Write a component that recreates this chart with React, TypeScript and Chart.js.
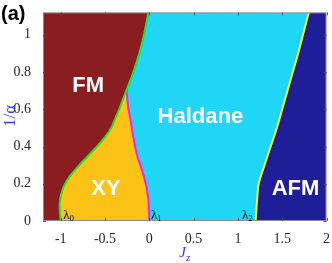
import React, { useEffect, useRef } from "react";
import { Chart, registerables } from "chart.js";

Chart.register(...registerables);

// ---- axes ----
const X_MIN = -1.2;
const X_MAX = 2;
const Y_MIN = 0;
const Y_MAX = 1.12;
const xTicks = [-1, -0.5, 0, 0.5, 1, 1.5, 2];
const yTicks = [0, 0.2, 0.4, 0.6, 0.8, 1];

// ---- phase boundaries (Jz as a function of 1/alpha), ordered top -> bottom ----
// FM boundary (green)
const greenY = [1.12, 1.0, 0.9, 0.8, 0.704, 0.65, 0.6, 0.55, 0.5, 0.45, 0.4, 0.35, 0.3, 0.25, 0.2, 0.16, 0.12, 0.08, 0.04, 0];
const greenX = [-0.01, -0.06, -0.113, -0.18, -0.256, -0.3, -0.34, -0.385, -0.43, -0.5, -0.59, -0.69, -0.79, -0.88, -0.95, -0.985, -1.005, -1.012, -1.008, -1.0];
// XY / Haldane boundary (magenta)
const magentaY = [0.704, 0.637, 0.6, 0.53, 0.45, 0.4, 0.34, 0.27, 0.2, 0.15, 0.11, 0.05, 0];
const magentaX = [-0.256, -0.245, -0.235, -0.207, -0.18, -0.16, -0.13, -0.08, -0.04, -0.02, -0.01, -0.003, 0];
// Haldane / AFM boundary (yellow)
const yellowY = [1.12, 1.0, 0.9, 0.8, 0.7, 0.6, 0.5, 0.4, 0.3, 0.2, 0.1, 0];
const yellowX = [1.8, 1.735, 1.68, 1.62, 1.56, 1.5, 1.44, 1.37, 1.3, 1.235, 1.215, 1.2];

// ---- phase names and critical points ----
const phaseNames = ["FM", "XY", "Haldane", "AFM"];
const phaseAt = [
  [-0.69, 0.693],
  [-0.49, 0.137],
  [0.576, 0.528],
  [1.65, 0.137],
];
const critNames = ["0", "1", "2"];
const critAt = [
  [-0.972, 0.013],
  [0.019, 0.013],
  [1.047, 0.013],
];

const COL_FM = "#8a1d1f";
const COL_XY = "#fdc216";
const COL_HAL = "#20d6f6";
const COL_AFM = "#1e1e98";
const AXIS_BLUE = "#3a3af2";
const SERIF = "'Liberation Serif', 'Times New Roman', serif";
const SANS = "'Liberation Sans', Arial, sans-serif";

const pts = (xs: number[], ys: number[]) => xs.map((x, i) => ({ x, y: ys[i] }));

const overlay = {
  id: "overlay",
  afterDatasetsDraw(chart: any) {
    const { ctx, chartArea: a, scales } = chart;
    const sx = scales.x;
    const sy = scales.y;
    ctx.save();
    // frame
    ctx.strokeStyle = "#8c8c8c";
    ctx.lineWidth = 1;
    ctx.strokeRect(a.left + 0.5, a.top + 0.5, a.right - a.left - 1, a.bottom - a.top - 1);
    // inward ticks
    ctx.strokeStyle = "rgba(70,70,70,0.85)";
    ctx.beginPath();
    for (const v of xTicks) {
      const px = Math.round(sx.getPixelForValue(v)) + 0.5;
      ctx.moveTo(px, a.bottom);
      ctx.lineTo(px, a.bottom - 3);
      ctx.moveTo(px, a.top);
      ctx.lineTo(px, a.top + 3);
    }
    for (const v of yTicks) {
      const py = Math.round(sy.getPixelForValue(v)) + 0.5;
      ctx.moveTo(a.left, py);
      ctx.lineTo(a.left + 3, py);
      ctx.moveTo(a.right, py);
      ctx.lineTo(a.right - 3, py);
    }
    ctx.stroke();

    // phase labels
    ctx.fillStyle = "#ffffff";
    ctx.font = `bold 22px ${SANS}`;
    ctx.textAlign = "center";
    ctx.textBaseline = "alphabetic";
    phaseNames.forEach((n, i) => {
      ctx.fillText(n, sx.getPixelForValue(phaseAt[i][0]), sy.getPixelForValue(phaseAt[i][1]));
    });

    // lambda labels
    ctx.fillStyle = "#000000";
    ctx.textAlign = "left";
    critNames.forEach((n, i) => {
      const px = sx.getPixelForValue(critAt[i][0]);
      const py = sy.getPixelForValue(critAt[i][1]);
      ctx.font = `13px ${SERIF}`;
      ctx.fillText("λ", px, py);
      const w = ctx.measureText("λ").width;
      ctx.font = `9px ${SERIF}`;
      ctx.fillText(n, px + w, py + 2.5);
    });

    // x title J_z
    const cx = (a.left + a.right) / 2;
    ctx.fillStyle = AXIS_BLUE;
    ctx.font = `italic 15px ${SERIF}`;
    const wJ = ctx.measureText("J").width;
    ctx.font = `italic 11px ${SERIF}`;
    const wz = ctx.measureText("z").width;
    const x0 = cx - (wJ + wz) / 2;
    ctx.font = `italic 15px ${SERIF}`;
    ctx.fillText("J", x0, 257);
    ctx.font = `italic 11px ${SERIF}`;
    ctx.fillText("z", x0 + wJ, 260.5);

    // y title 1/alpha
    ctx.save();
    ctx.translate(11, 116);
    ctx.rotate(-Math.PI / 2);
    ctx.textAlign = "center";
    ctx.textBaseline = "middle";
    ctx.font = `17px ${SERIF}`;
    ctx.fillText("1/α", 0, 0);
    ctx.restore();

    // panel tag
    ctx.fillStyle = "#000000";
    ctx.font = `bold 20px ${SANS}`;
    ctx.textAlign = "left";
    ctx.textBaseline = "alphabetic";
    ctx.fillText("(a)", 1, 20);
    ctx.restore();
  },
};

export default function App() {
  const ref = useRef<HTMLCanvasElement | null>(null);

  useEffect(() => {
    if (!ref.current) return;
    const common = { pointRadius: 0, pointHoverRadius: 0, tension: 0.3 };
    const chart = new Chart(ref.current, {
      type: "line",
      data: {
        datasets: [
          {
            label: "FM",
            data: pts(greenX, greenY),
            borderColor: "#27e027",
            borderWidth: 2,
            backgroundColor: COL_FM,
            fill: { value: X_MIN },
            ...common,
          },
          {
            label: "XY",
            data: pts(magentaX, magentaY),
            borderColor: "#ff1cf0",
            borderWidth: 2,
            backgroundColor: COL_XY,
            fill: { value: X_MIN },
            ...common,
          },
          {
            label: "AFM",
            data: pts(yellowX, yellowY),
            borderColor: "#f6f61a",
            borderWidth: 2,
            backgroundColor: COL_AFM,
            fill: { value: X_MAX },
            ...common,
          },
          {
            label: "Haldane",
            data: pts(yellowX, yellowY),
            borderColor: "rgba(0,0,0,0)",
            borderWidth: 0,
            backgroundColor: COL_HAL,
            fill: { value: X_MIN },
            ...common,
          },
        ],
      } as any,
      options: {
        animation: false,
        responsive: false,
        indexAxis: "y",
        layout: { padding: { top: 8, right: 5, left: 0, bottom: 0 } },
        plugins: { legend: { display: false }, tooltip: { enabled: false } },
        events: [],
        scales: {
          x: {
            type: "linear",
            position: "bottom",
            min: X_MIN,
            max: X_MAX,
            grid: { display: false },
            border: { display: false },
            afterBuildTicks: (s: any) => {
              s.ticks = xTicks.map((value) => ({ value }));
            },
            afterFit: (s: any) => {
              s.height = 42;
            },
            ticks: {
              autoSkip: false,
              maxRotation: 0,
              padding: 2,
              color: "#262626",
              font: { family: SERIF, size: 14 },
              callback: (v: any) => String(v),
            },
          },
          y: {
            type: "linear",
            position: "left",
            min: Y_MIN,
            max: Y_MAX,
            grid: { display: false },
            border: { display: false },
            afterBuildTicks: (s: any) => {
              s.ticks = yTicks.map((value) => ({ value }));
            },
            afterFit: (s: any) => {
              s.width = 43;
            },
            ticks: {
              autoSkip: false,
              padding: 4,
              color: "#262626",
              font: { family: SERIF, size: 14 },
              callback: (v: any) => String(v),
            },
          },
        },
      } as any,
      plugins: [overlay],
    });
    return () => chart.destroy();
  }, []);

  return (
    <div style={{ position: "fixed", left: 0, top: 0, width: 332, height: 263, background: "#fff" }}>
      <canvas ref={ref} width={332} height={263} style={{ display: "block" }} />
    </div>
  );
}
